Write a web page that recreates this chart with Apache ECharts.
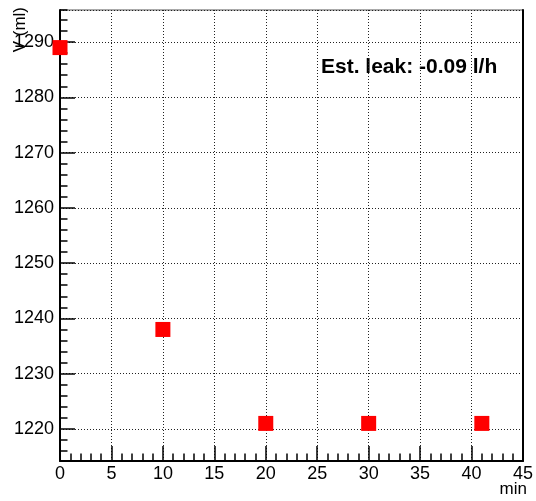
<!DOCTYPE html>
<html>
<head>
<meta charset="utf-8">
<script src="https://cdn.jsdelivr.net/npm/echarts@6/dist/echarts.min.js"></script>
<style>
html,body{margin:0;padding:0;background:#fff;}
#chart{width:536px;height:501px;}
</style>
</head>
<body>
<div id="chart"></div>
<script>
// Data
const minutes = [0, 10, 20, 30, 41];
const volumes = [1289, 1238, 1221, 1221, 1221];
const xTitle = 'min';
const yTitle = 'V (ml)';
const note = 'Est. leak: -0.09 l/h';

const FONT = '"Liberation Sans", Arial, Helvetica, sans-serif';
const yMin = 1214.2, yMax = 1295.8;

const chart = echarts.init(document.getElementById('chart'), null, {renderer: 'canvas'});
const dotted = {type: [1, 2], color: '#222', width: 1};

chart.setOption({
  animation: false,
  backgroundColor: '#fff',
  grid: {left: 60, right: 10, top: 10, bottom: 40, show: true, borderColor: '#555', borderWidth: 1, backgroundColor: 'transparent'},
  xAxis: {
    type: 'value', min: 0, max: 45, interval: 5,
    axisLine: {lineStyle: {color: '#000', width: 2}},
    axisTick: {inside: true, length: 15, lineStyle: {color: '#000', width: 1.5}},
    minorTick: {show: true, splitNumber: 5, length: 7.5, lineStyle: {color: '#000', width: 1.5}},
    axisLabel: {color: '#000', fontFamily: FONT, fontSize: 18, margin: 4},
    splitLine: {show: true, lineStyle: dotted}
  },
  yAxis: [
    {
      type: 'value', position: 'left', min: yMin, max: yMax,
      splitNumber: 8, minInterval: 10, maxInterval: 10,
      axisLine: {show: true, lineStyle: {color: '#000', width: 2}},
      axisTick: {inside: true, length: 15, lineStyle: {color: '#000', width: 1.5}},
      axisLabel: {color: '#000', fontFamily: FONT, fontSize: 18, margin: 6, showMinLabel: false, showMaxLabel: false,
                  formatter: v => String(Math.round(v))},
      splitLine: {show: true, lineStyle: dotted}
    },
    {
      type: 'value', position: 'left', min: yMin, max: yMax,
      splitNumber: 40, minInterval: 2, maxInterval: 2,
      axisLine: {show: false},
      axisTick: {show: true, inside: true, length: 7.5, lineStyle: {color: '#000', width: 1.5}},
      axisLabel: {show: false},
      splitLine: {show: false}
    },
    {
      type: 'value', position: 'right', min: yMin, max: yMax,
      axisLine: {show: true, lineStyle: {color: '#000', width: 2}},
      axisTick: {show: false},
      axisLabel: {show: false},
      splitLine: {show: false}
    }
  ],
  series: [{
    type: 'scatter',
    yAxisIndex: 0,
    symbol: 'rect',
    symbolSize: 15,
    itemStyle: {color: '#ff0000', opacity: 1},
    data: minutes.map((m, i) => [m, volumes[i]])
  }],
  graphic: [
    {type: 'text', x: 20, y: 7, rotation: Math.PI / 2,
     style: {text: yTitle, font: '17px ' + FONT, fill: '#000', align: 'right', verticalAlign: 'middle'}},
    {type: 'text', x: 527, y: 489,
     style: {text: xTitle, font: '17px ' + FONT, fill: '#000', align: 'right', verticalAlign: 'middle'}},
    {type: 'text', x: 321, y: 67,
     style: {text: note, font: 'bold 21px ' + FONT, fill: '#000', align: 'left', verticalAlign: 'middle'}}
  ]
});
</script>
</body>
</html>
